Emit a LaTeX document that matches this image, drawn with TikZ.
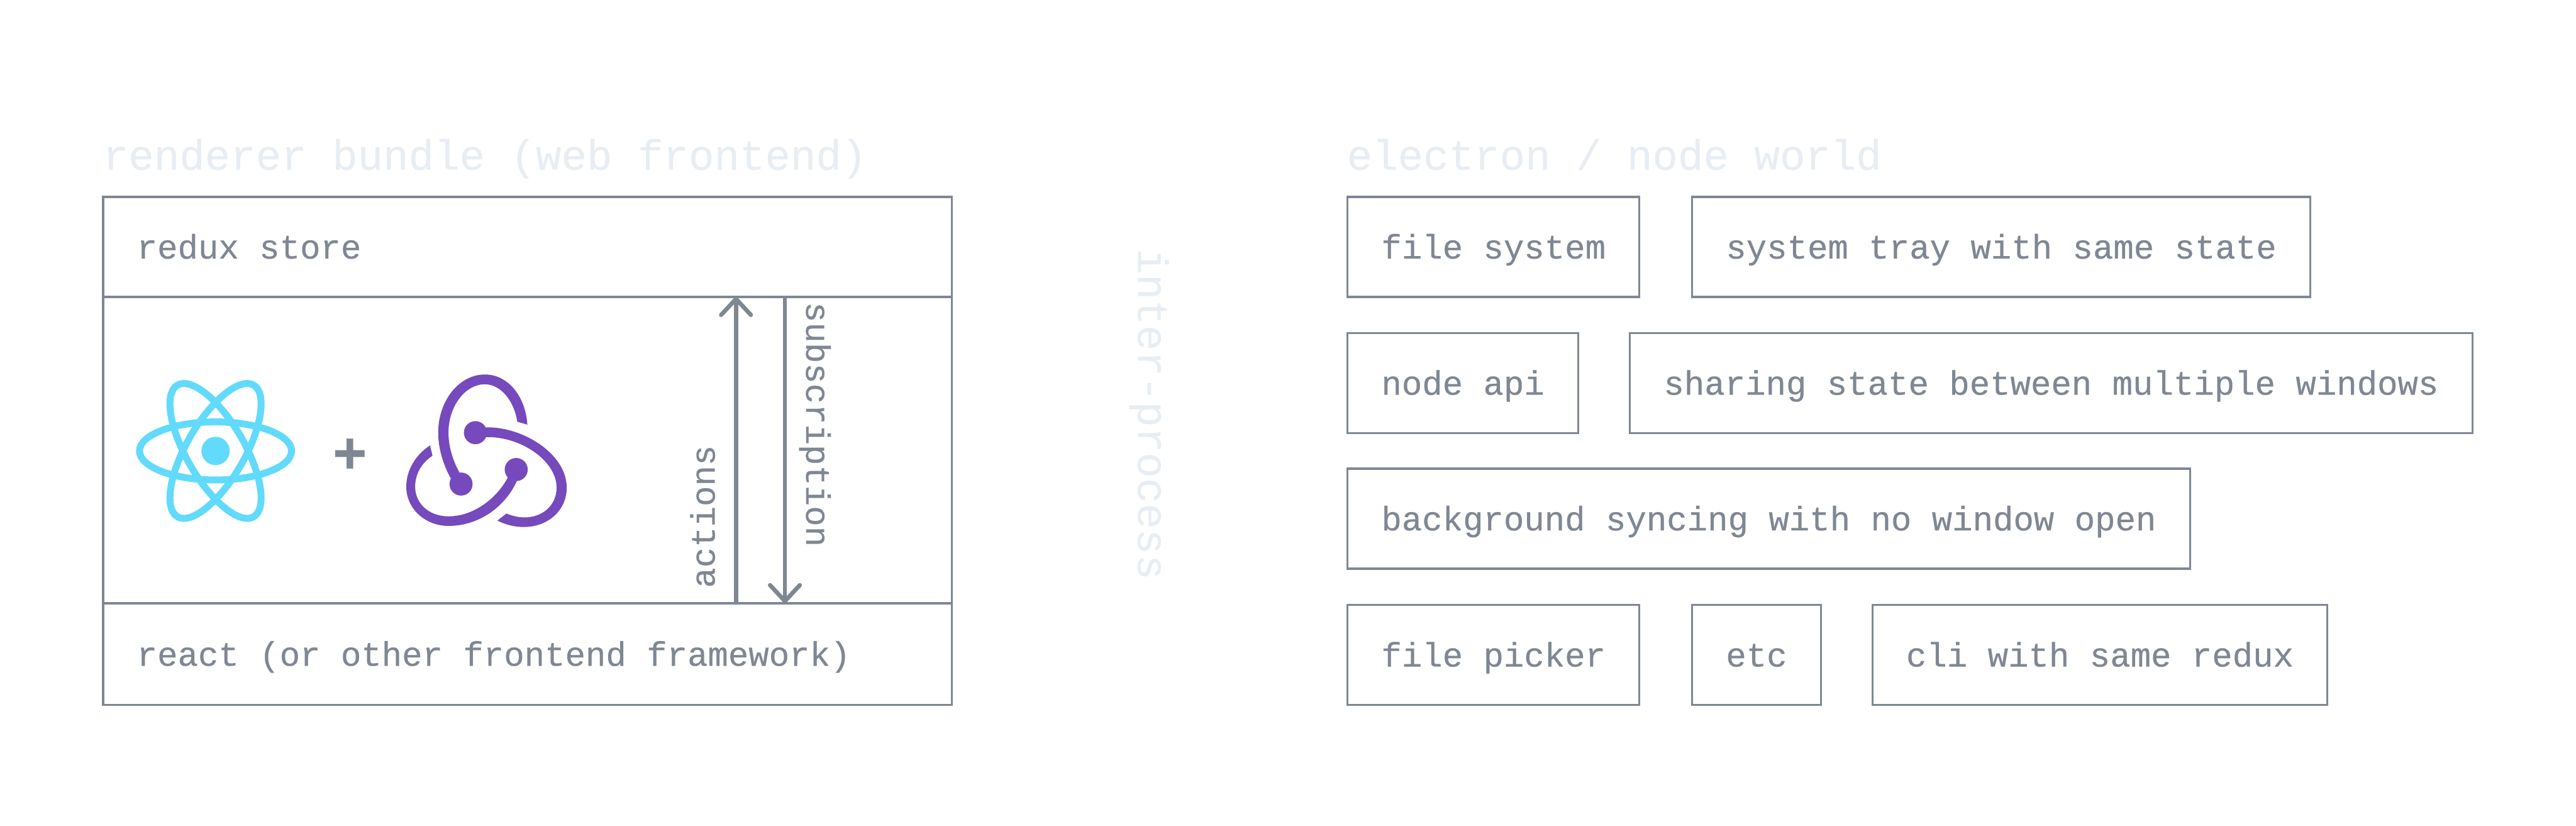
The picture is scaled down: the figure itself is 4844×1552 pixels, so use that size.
\documentclass[tikz,border=0pt]{standalone}
\usepackage{fontspec}
\setmonofont[FakeBold=0.4]{Liberation Mono}
\usetikzlibrary{arrows.meta,positioning,calc}
\definecolor{linegray}{HTML}{7F8793}
\definecolor{palegray}{HTML}{E7EDF3}
\definecolor{reactblue}{HTML}{61DAFB}
\definecolor{reduxpurple}{HTML}{764ABC}
\newcommand{\widerow}[1]{\makebox[146.9mm][l]{#1}}

\begin{document}
\begin{tikzpicture}[
  x=0.1mm,y=-0.1mm,
  font=\ttfamily\fontsize{6.39mm}{8mm}\selectfont,
  box/.style={draw=linegray,line width=0.4mm,anchor=north west,outer sep=0pt,
              inner xsep=6.35mm,inner ysep=0pt,minimum height=18.8mm,
              text height=6mm,text depth=1.6mm,text=linegray},
  flow/.style={-{Straight Barb[length=3mm,width=5.6mm,round]},line width=0.8mm,
               draw=linegray},
  lbl/.style={inner sep=0pt,text=linegray},
  title/.style={inner sep=0pt,text=palegray,
                font=\ttfamily\fontsize{7.98mm}{9mm}\selectfont},
  ring/.style={draw=reactblue,line width=1.3mm},
  reduxarc/.style={fill=reduxpurple},
]
  \useasboundingbox (0,0) rectangle (4844,1552);

  \node[title,anchor=base west] (rendertitle) at (193,319) {renderer bundle (web frontend)};
  \node[title,anchor=base west] (worldtitle)  at (2532,319) {electron / node world};

  \node[box] (store) at (194,370)  {\widerow{redux store}};
  \node[box,minimum height=57.6mm] (middle) at (194,558) {\widerow{}};
  \node[box,minimum height=19.1mm] (react) at (194,1134)
       {\widerow{react (or other frontend framework)}};

  \foreach \ang in {0,60,120}
    \draw[ring,rotate around={\ang:(405.3,847.7)}] (405.3,847.7)
         ellipse [x radius=14.3mm,y radius=5.46mm];
  \fill[reactblue] (405.3,847.7) circle [radius=2.66mm];

  \node[text=linegray,inner sep=0pt,font=\ttfamily\bfseries\fontsize{11mm}{11mm}\selectfont]
       (plus) at (658,857) {+};

  \begin{scope}[shift={(750,690)},scale=1/3]
    \fill[reduxarc] (293,628) .. controls (245,540) and (222,450) .. (222,370)
         .. controls (222,190) and (340,42) .. (485,42)
         .. controls (620,42) and (715,170) .. (725,325) -- (668,308)
         .. controls (650,190) and (575,97) .. (485,97)
         .. controls (375,97) and (280,220) .. (280,370)
         .. controls (280,450) and (305,530) .. (345,600) -- cycle;
    \fill[reduxarc] (490,340) .. controls (700,335) and (947,490) .. (947,680)
         .. controls (947,810) and (840,902) .. (705,902)
         .. controls (650,902) and (600,888) .. (556,866) -- (607,826)
         .. controls (640,840) and (675,848) .. (710,848)
         .. controls (810,848) and (890,780) .. (890,680)
         .. controls (890,530) and (690,390) .. (490,395) -- cycle;
    \fill[reduxarc] (615,622) .. controls (560,730) and (430,842) .. (280,842)
         .. controls (170,842) and (92,770) .. (92,675)
         .. controls (92,600) and (130,540) .. (190,500) -- (176,442)
         .. controls (95,495) and (42,580) .. (42,675)
         .. controls (42,800) and (150,896) .. (280,896)
         .. controls (450,896) and (600,790) .. (667,640) -- cycle;
    \foreach \ballpos in {(432,370),(662,578),(351,660)}
      \fill[reduxarc] \ballpos circle [radius=65];
  \end{scope}

  \coordinate (actionsx) at (1384,0);
  \coordinate (subsx)    at (1476,0);
  \draw[flow] (actionsx |- react.north) -- (actionsx |- store.south);
  \draw[flow] (subsx |- store.south) -- (subsx |- react.north);
  \node[lbl,rotate=90,anchor=base west]  (actions) at (1344,1106) {actions};
  \node[lbl,rotate=-90,anchor=base west] (subscription) at (1516,567) {subscription};

  \node[title,rotate=-90,anchor=base west] (ipc) at (2140,467) {inter-process};

  \node[box] (files)    at (2534,370)  {file system};
  \node[box] (tray)     at (3182,370)  {system tray with same state};
  \node[box] (nodeapi)  at (2534,626)  {node api};
  \node[box] (sharing)  at (3065,626)  {sharing state between multiple windows};
  \node[box] (syncing)  at (2534,881)  {background syncing with no window open};
  \node[box] (picker)   at (2534,1137) {file picker};
  \node[box] (etc)      at (3182,1137) {etc};
  \node[box] (cli)      at (3521,1137) {cli with same redux};
\end{tikzpicture}
\end{document}
